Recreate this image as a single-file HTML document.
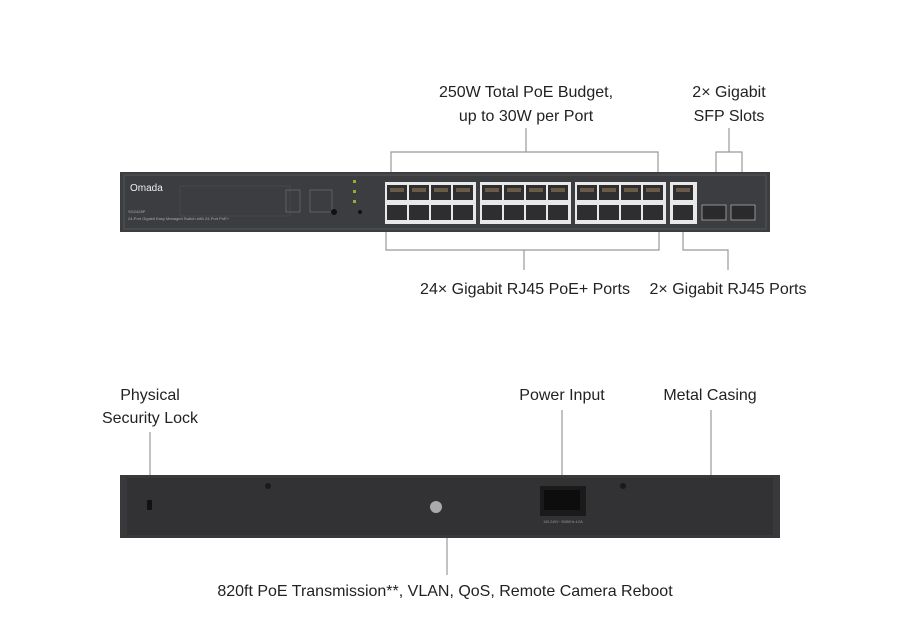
<!DOCTYPE html>
<html><head><meta charset="utf-8"><style>
body{margin:0;background:#fff;}
svg{display:block;font-family:"Liberation Sans",sans-serif;}
</style></head><body>
<svg width="919" height="633" viewBox="0 0 919 633" xmlns="http://www.w3.org/2000/svg">
<defs>
<g id="port"><rect x="0" y="0" width="20" height="15" fill="#2e2e30"/><rect x="3" y="3" width="14" height="4" fill="#6a5a48"/></g>
<g id="portb"><rect x="0" y="0" width="20" height="15" fill="#2e2e30"/></g>
</defs>
<g fill="#222" font-size="16" text-anchor="middle">
<text x="526" y="97">250W Total PoE Budget,</text>
<text x="526" y="121">up to 30W per Port</text>
<text x="729" y="97">2× Gigabit</text>
<text x="729" y="121">SFP Slots</text>
<text x="525" y="294">24× Gigabit RJ45 PoE+ Ports</text>
<text x="728" y="294">2× Gigabit RJ45 Ports</text>
<text x="150" y="400">Physical</text>
<text x="150" y="423">Security Lock</text>
<text x="562" y="400">Power Input</text>
<text x="710" y="400">Metal Casing</text>
<text x="445" y="596">820ft PoE Transmission**, VLAN, QoS, Remote Camera Reboot</text>
</g>
<g stroke="#999" stroke-width="1.2" fill="none">
<path d="M526 128V152M391 175V152H658V175"/>
<path d="M729 128V152M716 205V152H742V205"/>
<path d="M386 232V250H659V232M524 250V270"/>
<path d="M683 232V250H728V270"/>
<path d="M150 432V505M562 410V476M711 410V475M447 535V575"/>
</g>
<!-- front panel -->
<rect x="120" y="172" width="650" height="60" fill="#3c3d40"/>
<rect x="124" y="175" width="642" height="54" fill="none" stroke="#555" stroke-width="1"/>
<text x="130" y="191" fill="#eee" font-size="10">Omada</text>
<text x="128" y="213" fill="#aaa" font-size="4">SG2428P</text>
<text x="128" y="220" fill="#aaa" font-size="4">24-Port Gigabit Easy Managed Switch with 24-Port PoE+</text>
<g fill="#888"><rect x="180" y="186" width="110" height="30" fill="none" stroke="#555" stroke-width="0.5"/>
<rect x="286" y="190" width="14" height="22" fill="none" stroke="#777" stroke-width="0.6"/>
<rect x="310" y="190" width="22" height="22" fill="none" stroke="#777" stroke-width="0.6"/>
<circle cx="334" cy="212" r="3" fill="#111"/><circle cx="360" cy="212" r="2" fill="#111"/>
<rect x="353" y="180" width="3" height="3" fill="#9a3"/><rect x="353" y="190" width="3" height="3" fill="#9a3"/><rect x="353" y="200" width="3" height="3" fill="#9a3"/></g>
<g>
<rect x="385" y="182" width="91" height="42" fill="#e8e8e8"/>
<rect x="480" y="182" width="91" height="42" fill="#e8e8e8"/>
<rect x="575" y="182" width="91" height="42" fill="#e8e8e8"/>
<rect x="670" y="182" width="27" height="42" fill="#e8e8e8"/>
<use href="#port" x="387" y="185"/><use href="#port" x="409" y="185"/><use href="#port" x="431" y="185"/><use href="#port" x="453" y="185"/>
<use href="#port" x="482" y="185"/><use href="#port" x="504" y="185"/><use href="#port" x="526" y="185"/><use href="#port" x="548" y="185"/>
<use href="#port" x="577" y="185"/><use href="#port" x="599" y="185"/><use href="#port" x="621" y="185"/><use href="#port" x="643" y="185"/>
<use href="#port" x="673" y="185"/>
<use href="#portb" x="387" y="205"/><use href="#portb" x="409" y="205"/><use href="#portb" x="431" y="205"/><use href="#portb" x="453" y="205"/>
<use href="#portb" x="482" y="205"/><use href="#portb" x="504" y="205"/><use href="#portb" x="526" y="205"/><use href="#portb" x="548" y="205"/>
<use href="#portb" x="577" y="205"/><use href="#portb" x="599" y="205"/><use href="#portb" x="621" y="205"/><use href="#portb" x="643" y="205"/>
<use href="#portb" x="673" y="205"/>
<rect x="702" y="205" width="24" height="15" fill="#2a2a2c" stroke="#aaa" stroke-width="0.8"/>
<rect x="731" y="205" width="24" height="15" fill="#2a2a2c" stroke="#aaa" stroke-width="0.8"/>
</g>
<!-- rear panel -->
<rect x="120" y="475" width="660" height="63" fill="#39393c"/>
<rect x="127" y="478" width="646" height="57" fill="#323235"/>
<rect x="147" y="500" width="5" height="10" rx="1" fill="#111"/>
<circle cx="268" cy="486" r="3" fill="#1a1a1a"/><circle cx="623" cy="486" r="3" fill="#1a1a1a"/>
<circle cx="436" cy="507" r="6" fill="#aaa"/>
<rect x="540" y="486" width="46" height="30" fill="#1a1a1a"/>
<rect x="544" y="490" width="36" height="20" fill="#0d0d0d"/>
<text x="563" y="523" fill="#999" font-size="3.5" text-anchor="middle">100-240V~ 50/60Hz 4.0A</text>
</svg>
</body></html>
